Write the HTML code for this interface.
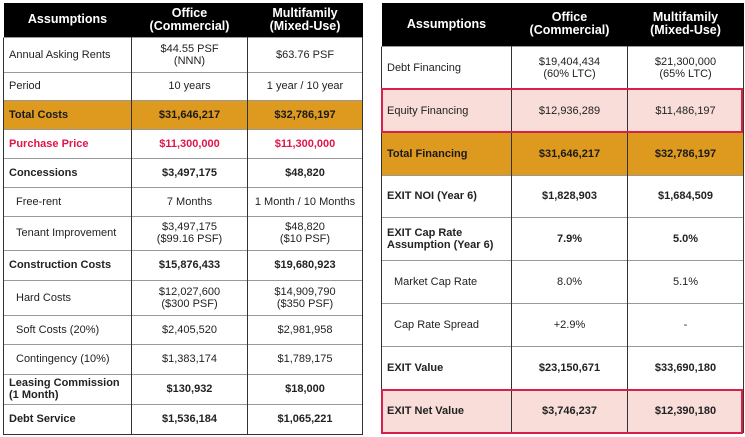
<!DOCTYPE html>
<html><head><style>
body{margin:0;width:745px;height:437px;background:#fff;font-family:"Liberation Sans",Arial,sans-serif;position:relative;overflow:hidden}
table{position:absolute;border-collapse:collapse;table-layout:fixed;color:#222}
td,th{padding:0;text-align:center;font-size:11px;line-height:12px;border-top:1px solid #999;border-left:1.5px solid #333;border-right:1.5px solid #333}
th{background:#000;color:#fff;font-size:12.5px;font-weight:bold;line-height:13px;border:none}
td:first-child{text-align:left;padding-left:5px}
.in td:first-child{padding-left:12px}
.b td{font-weight:bold}
.g td{background:#DE9A1F;font-weight:bold;color:#1a1a1a}
.r td{color:#E0154A;font-weight:bold}
.p td{background:#F8DDD9}
.box{position:absolute;border:2px solid #D8204A;box-sizing:border-box}
</style></head><body>
<table style="left:3px;top:3px;width:359px;border-bottom:1.5px solid #333">
<colgroup><col style="width:128px"><col style="width:116px"><col style="width:115px"></colgroup>
<tr style="height:34px"><th>Assumptions</th><th>Office<br>(Commercial)</th><th>Multifamily<br>(Mixed-Use)</th></tr>
<tr style="height:35px"><td>Annual Asking Rents</td><td>$44.55 PSF<br>(NNN)</td><td>$63.76 PSF</td></tr>
<tr style="height:28px"><td>Period</td><td>10 years</td><td>1 year / 10 year</td></tr>
<tr class="g" style="height:29px"><td>Total Costs</td><td>$31,646,217</td><td>$32,786,197</td></tr>
<tr class="r" style="height:29px"><td>Purchase Price</td><td>$11,300,000</td><td>$11,300,000</td></tr>
<tr class="b" style="height:29px"><td>Concessions</td><td>$3,497,175</td><td>$48,820</td></tr>
<tr class="in" style="height:29px"><td>Free-rent</td><td>7 Months</td><td>1 Month / 10 Months</td></tr>
<tr class="in" style="height:34px"><td>Tenant Improvement</td><td>$3,497,175<br>($99.16 PSF)</td><td>$48,820<br>($10 PSF)</td></tr>
<tr class="b" style="height:30px"><td>Construction Costs</td><td>$15,876,433</td><td>$19,680,923</td></tr>
<tr class="in" style="height:35px"><td>Hard Costs</td><td>$12,027,600<br>($300 PSF)</td><td>$14,909,790<br>($350 PSF)</td></tr>
<tr class="in" style="height:29px"><td>Soft Costs (20%)</td><td>$2,405,520</td><td>$2,981,958</td></tr>
<tr class="in" style="height:30px"><td>Contingency (10%)</td><td>$1,383,174</td><td>$1,789,175</td></tr>
<tr class="b" style="height:30px"><td>Leasing Commission<br>(1 Month)</td><td>$130,932</td><td>$18,000</td></tr>
<tr class="b" style="height:30px"><td>Debt Service</td><td>$1,536,184</td><td>$1,065,221</td></tr>
</table>
<table style="left:381px;top:3px;width:362px;border-bottom:1.5px solid #333">
<colgroup><col style="width:130px"><col style="width:116px"><col style="width:116px"></colgroup>
<tr style="height:43px"><th>Assumptions</th><th>Office<br>(Commercial)</th><th>Multifamily<br>(Mixed-Use)</th></tr>
<tr style="height:43px"><td>Debt Financing</td><td>$19,404,434<br>(60% LTC)</td><td>$21,300,000<br>(65% LTC)</td></tr>
<tr class="p" style="height:43px"><td>Equity Financing</td><td>$12,936,289</td><td>$11,486,197</td></tr>
<tr class="g" style="height:43px"><td>Total Financing</td><td>$31,646,217</td><td>$32,786,197</td></tr>
<tr class="b" style="height:42px"><td>EXIT NOI (Year 6)</td><td>$1,828,903</td><td>$1,684,509</td></tr>
<tr class="b" style="height:43px"><td>EXIT Cap Rate<br>Assumption (Year 6)</td><td>7.9%</td><td>5.0%</td></tr>
<tr class="in" style="height:43px"><td>Market Cap Rate</td><td>8.0%</td><td>5.1%</td></tr>
<tr class="in" style="height:43px"><td>Cap Rate Spread</td><td>+2.9%</td><td>-</td></tr>
<tr class="b" style="height:43px"><td>EXIT Value</td><td>$23,150,671</td><td>$33,690,180</td></tr>
<tr class="b p" style="height:43px"><td>EXIT Net Value</td><td>$3,746,237</td><td>$12,390,180</td></tr>
</table>
<div class="box" style="left:381px;top:88px;width:362px;height:45px"></div>
<div class="box" style="left:381px;top:389px;width:362px;height:45px"></div>
</body></html>
